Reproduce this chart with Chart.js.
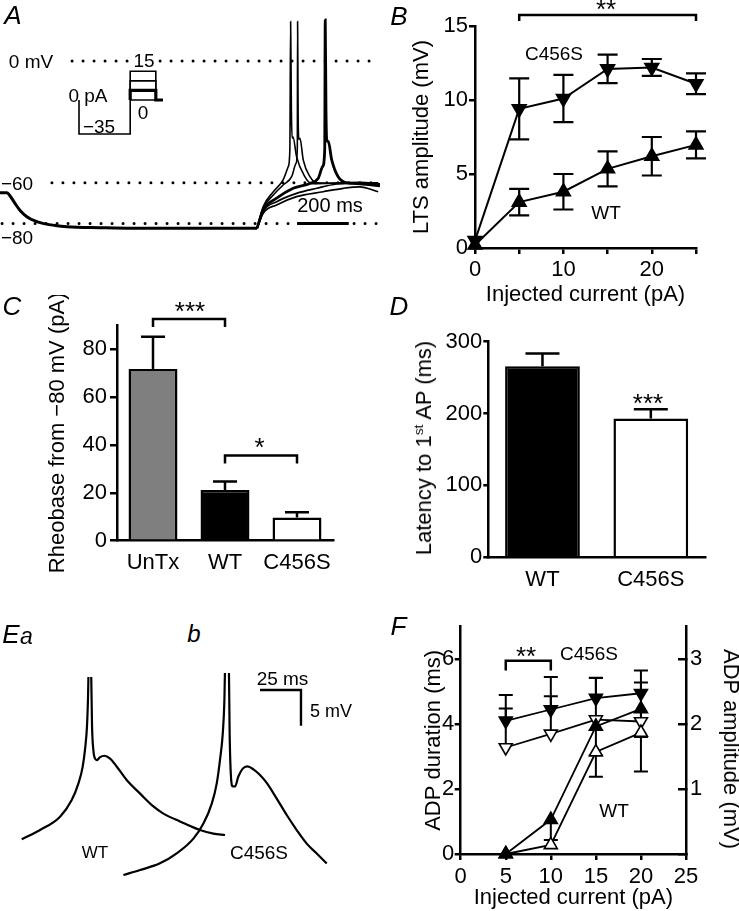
<!DOCTYPE html>
<html><head><meta charset="utf-8">
<script src="https://cdn.jsdelivr.net/npm/chart.js@4.4.1/dist/chart.umd.min.js"></script>
<style>
html,body{margin:0;padding:0;background:#fff;overflow:hidden;}
#fig{position:relative;width:739px;height:911px;overflow:hidden;background:#fff;font-family:'Liberation Sans',Arial,Helvetica,sans-serif;color:#000;}
#fig canvas{position:absolute;}
.t{position:absolute;white-space:nowrap;line-height:1;transform:translate(-50%,-50%);}
</style></head><body><div id="fig"></div>
<script>
// ================= DATA =================
// Panel A: voltage traces (time in ms, membrane potential in mV)
const aBaseTime = [0, 27, 39, 58, 77, 104, 135, 166, 213, 259, 387, 515, 995];
const aBaseMv   = [-64.9, -64.9, -66.5, -70.1, -73.5, -76.7, -78.8, -80, -81, -81.6, -82.1, -82.4, -82.4];
const aSweep1Time = [995, 1019, 1058, 1096, 1116, 1122, 1125, 1128, 1131, 1134, 1148, 1180, 1206, 1277, 1393, 1471];
const aSweep1Mv   = [-82.4, -71.7, -64.4, -58.6, -52, -43.8, 19.4, -25, -38, -37.3, -47.1, -57, -60.4, -60.2, -59.8, -60.5];
const aSweep2Time = [995, 1019, 1058, 1096, 1129, 1146, 1151, 1152, 1154, 1157, 1161, 1174, 1200, 1226, 1316, 1413, 1471];
const aSweep2Mv   = [-82.4, -72.5, -66, -61.1, -57, -50.4, -42.2, 19.4, -25, -38.5, -38.1, -48.8, -57, -60, -60.3, -60, -60.8];
const aSweep3Time = [995, 1019, 1071, 1135, 1200, 1232, 1249, 1257, 1259, 1262, 1265, 1271, 1284, 1309, 1342, 1393, 1471];
const aSweep3Mv   = [-82.4, -73.4, -67.6, -62.7, -60.3, -57.8, -52, -43.8, 20.2, -25, -39, -39.7, -48.7, -57, -60, -60.5, -61.5];
const aSweep4Time = [995, 1019, 1071, 1148, 1226, 1303, 1393, 1464];
const aSweep4Mv   = [-82.4, -74, -69.3, -65.2, -62.7, -60.6, -60, -60];
const aSweep5Time = [995, 1019, 1071, 1148, 1251, 1329, 1393, 1464];
const aSweep5Mv   = [-82.4, -75, -70.9, -66.8, -64.4, -62.7, -62, -64.4];
const aRefLevelsMv = [0, -60, -80];
const aRefStartMs  = [279, 201, 8];
const aScaleBarMs = [1150, 1350];
// Panel A inset: current protocol (pA)
const aHoldPa = 0;
const aHyperPa = -35;
const aStepPa = [0, 5, 10, 15];
const aProtocolMs = [0, 1000, 1500, 1640];

// Panel B: LTS amplitude (mV) vs injected current (pA)
const bCurrent = [0, 5, 10, 15, 20, 25];
const bLtsC456S = [0.5, 9.4, 10.1, 12.1, 12.2, 11.1];
const bLtsC456SSem = [0, 2.06, 1.6, 0.96, 0.57, 0.7];
const bLtsWT = [0.2, 3.1, 3.8, 5.35, 6.2, 6.97];
const bLtsWTSem = [0, 0.9, 1.2, 1.18, 1.3, 0.91];

// Panel C: rheobase from -80 mV (pA)
const cGroups = ['UnTx', 'WT', 'C456S'];
const cRheobase = [71.6, 21.2, 9.7];
const cRheobaseSem = [13.5, 3.5, 2.2];

// Panel D: latency to 1st AP (ms)
const dGroups = ['WT', 'C456S'];
const dLatency = [266, 193];
const dLatencySem = [17.5, 13];

// Panel E: single spikes with ADP (time ms, relative mV)
const eWtTime = [0, 11.2, 23.4, 30.5, 34.6, 37.2, 38.8, 39.8, 40.4, 41.3, 42.3, 42.9, 43.7, 44.7, 45.9, 47.8, 50.4, 53.9, 57.9, 64.0, 72.2, 80.3, 86.4, 96.5, 108.7, 116.9, 124.0];
const eWtMv   = [5.0, 6.3, 8.17, 10.5, 12.84, 15.17, 17.97, 20.78, 24.5, 33.8, 29.2, 20.8, 17.5, 16.3, 16.1, 16.5, 16.7, 16.3, 15.2, 13.3, 11.4, 9.6, 8.6, 7.5, 6.3, 5.8, 5.6];
const eMutTime = [62.0, 72.2, 84.3, 94.5, 104.7, 110.8, 115.9, 118.9, 120.9, 122.6, 123.6, 124.2, 125.2, 126.2, 126.8, 127.6, 128.7, 130.1, 132.1, 134.8, 137.6, 141.3, 145.3, 149.4, 155.5, 161.6, 167.7, 173.8, 179.9, 186.0];
const eMutMv   = [0, 0.7, 1.63, 3.03, 5.1, 7.2, 10.0, 12.8, 16.1, 19.8, 24.5, 31.5, 33.8, 31.5, 19.8, 13.8, 12.4, 12.4, 13.8, 14.9, 15.2, 14.8, 14.0, 12.9, 10.7, 8.4, 6.3, 4.4, 3.0, 1.6];
const eScaleOrigin = [145.3, 25.9];
const eScaleSize = [25, 5];

// Panel F: ADP duration (ms, left axis) and amplitude (mV, right axis)
const fCurrent = [5, 10, 15, 20];
const fDurC456S = [4.1, 4.45, 4.8, 4.95];
const fDurC456SSem = [0.8, 1.0, 0.63, 0.7];
const fDurWT = [0, 1.06, 3.93, 4.47];
const fDurWTSem = [0, 0.63, 0.9, 0.87];
const fAmpC456S = [1.64, 1.85, 2.07, 2.04];
const fAmpC456SSem = [0.6, 0.58, 0.64, 0.6];
const fAmpWT = [0, 0.14, 1.57, 1.87];
const fAmpWTSem = [0, 0, 0.38, 0.6];

// ================= SETUP =================
const FONT = "'Liberation Sans', Arial, Helvetica, sans-serif";
Chart.defaults.font.family = FONT;
Chart.defaults.color = '#000';
Chart.defaults.animation = false;
Chart.defaults.responsive = false;
Chart.defaults.devicePixelRatio = 1;
Chart.defaults.events = [];
Chart.defaults.plugins.legend.display = false;
Chart.defaults.plugins.tooltip.enabled = false;

const fig = document.getElementById('fig');
function canvasAt(left, top, w, h) {
  const c = document.createElement('canvas');
  c.width = w; c.height = h;
  c.style.left = left + 'px'; c.style.top = top + 'px';
  c.style.width = w + 'px'; c.style.height = h + 'px';
  fig.appendChild(c);
  return c;
}
function label(html, cx, cy, size, opt = {}) {
  const d = document.createElement('div');
  d.className = 't';
  d.innerHTML = html;
  const dy = opt.star ? 0.22 * size : 0;
  d.style.left = cx + 'px';
  d.style.top = (cy + dy) + 'px';
  d.style.fontSize = size + 'px';
  if (opt.italic) d.style.fontStyle = 'italic';
  if (opt.bg) { d.style.background = '#fff'; d.style.padding = '0 2px'; }
  if (opt.rot) d.style.transform = 'translate(-50%,-50%) rotate(' + opt.rot + 'deg)';
  fig.appendChild(d);
}
const pts = (xs, ys) => xs.map((x, i) => ({x, y: ys[i]}));

// error bars drawn through the scales, below the markers
const errorBars = {
  id: 'errorBars',
  beforeDatasetsDraw(chart) {
    const ctx = chart.ctx;
    chart.data.datasets.forEach((ds, i) => {
      if (!ds.errors) return;
      const meta = chart.getDatasetMeta(i);
      const ys = chart.scales[meta.yAxisID];
      ctx.save();
      ctx.strokeStyle = '#000';
      ctx.lineWidth = ds.errWidth || 2;
      meta.data.forEach((el, j) => {
        const raw = ds.data[j];
        const v = (typeof raw === 'object') ? raw.y : raw;
        const e = ds.errors[j];
        if (!e) return;
        const x = el.x, y0 = ys.getPixelForValue(v);
        const dirs = ds.errDir === 'both' ? [1, -1] : (ds.errDir === 'down' ? [-1] : [1]);
        dirs.forEach(d => {
          const y1 = ys.getPixelForValue(v + d * e);
          ctx.beginPath();
          ctx.moveTo(x, y0); ctx.lineTo(x, y1);
          ctx.moveTo(x - ds.errCap, y1); ctx.lineTo(x + ds.errCap, y1);
          ctx.stroke();
        });
      });
      ctx.restore();
    });
  }
};
// significance brackets in data coordinates
const brackets = {
  id: 'brackets',
  afterDatasetsDraw(chart, args, opts) {
    if (!opts || !opts.items) return;
    const ctx = chart.ctx, xs = chart.scales.x, ys = chart.scales[opts.axis || 'y'];
    ctx.save();
    ctx.strokeStyle = '#000'; ctx.lineWidth = opts.width || 2.5; ctx.lineJoin = 'miter';
    for (const b of opts.items) {
      const x1 = xs.getPixelForValue(b.x1), x2 = xs.getPixelForValue(b.x2);
      const y = ys.getPixelForValue(b.y), yd = ys.getPixelForValue(b.y - b.drop);
      ctx.beginPath();
      ctx.moveTo(x1, yd); ctx.lineTo(x1, y); ctx.lineTo(x2, y); ctx.lineTo(x2, yd);
      ctx.stroke();
    }
    ctx.restore();
  }
};

function axisBase(o) {
  const ax = {
    type: o.type || 'linear',
    afterFit: s => { if (o.width != null) s.width = o.width; if (o.height != null) s.height = o.height; },
    border: {display: true, color: '#000', width: 2.5},
    grid: {display: o.noTicks ? false : true, drawOnChartArea: false, drawTicks: !o.noTicks,
           tickLength: o.tickLength != null ? o.tickLength : 6, color: '#000', lineWidth: 2.5},
    ticks: {includeBounds: false, autoSkip: false, maxRotation: 0, minRotation: 0,
            font: {size: 22}, color: '#000', padding: o.pad != null ? o.pad : 3},
    title: o.title ? {display: true, text: o.title, font: {size: 22}, color: '#000',
                      padding: o.titlePad} : {display: false}
  };
  if (o.position) ax.position = o.position;
  if (o.min != null) ax.min = o.min;
  if (o.max != null) ax.max = o.max;
  if (o.step != null) ax.ticks.stepSize = o.step;
  if (o.cb) ax.ticks.callback = o.cb;
  if (o.type === 'category') { ax.offset = true; }
  return ax;
}
const numCb = v => String(v);
const hidden = (min, max) => ({type: 'linear', display: false, min, max});

// ================= PANEL A =================
const traceDs = (xs, ys, w) => ({data: pts(xs, ys), borderColor: '#000', borderWidth: w, pointRadius: 0,
  cubicInterpolationMode: 'monotone', fill: false});
const aDatasets = [];
aRefLevelsMv.forEach((lv, i) => aDatasets.push({data: [{x: aRefStartMs[i], y: lv}, {x: 1471, y: lv}],
  borderColor: '#000', borderWidth: 3, borderDash: [0, 11], borderCapStyle: 'round', pointRadius: 0}));
aDatasets.push(traceDs(aBaseTime, aBaseMv, 3));
aDatasets.push(traceDs(aSweep5Time, aSweep5Mv, 1.7));
aDatasets.push(traceDs(aSweep4Time, aSweep4Mv, 1.7));
aDatasets.push(traceDs(aSweep1Time, aSweep1Mv, 1.6));
aDatasets.push(traceDs(aSweep2Time, aSweep2Mv, 1.6));
aDatasets.push(traceDs(aSweep3Time, aSweep3Mv, 2.8));
aDatasets.push({data: [{x: aScaleBarMs[0], y: aRefLevelsMv[2]}, {x: aScaleBarMs[1], y: aRefLevelsMv[2]}],
  borderColor: '#000', borderWidth: 3, pointRadius: 0});
new Chart(canvasAt(0, 0, 380, 250), {
  type: 'line',
  data: {datasets: aDatasets},
  options: {layout: {padding: 0}, scales: {x: hidden(0, 1471), y: hidden(-93.1, 30.05)}}
});

// inset protocol
const insetDs = [{data: [{x: aProtocolMs[0], y: aHoldPa}, {x: aProtocolMs[0], y: aHyperPa},
  {x: aProtocolMs[1], y: aHyperPa}, {x: aProtocolMs[1], y: aHoldPa}], yAxisID: 'yNeg',
  borderColor: '#000', borderWidth: 1.6, pointRadius: 0, borderJoinStyle: 'miter'}];
aStepPa.forEach(s => insetDs.push({data: [{x: aProtocolMs[1], y: 0}, {x: aProtocolMs[1], y: s},
  {x: aProtocolMs[2], y: s}, {x: aProtocolMs[2], y: 0}, {x: aProtocolMs[3], y: 0}], yAxisID: 'yPos',
  borderColor: '#000', borderWidth: s === 5 ? 3.2 : 1.6, pointRadius: 0, borderJoinStyle: 'miter'}));
new Chart(canvasAt(70, 60, 100, 85), {
  type: 'line',
  data: {datasets: insetDs},
  options: {layout: {padding: 0}, scales: {x: hidden(-175.8, 1777.3), yPos: hidden(-23.52, 20.91), yNeg: hidden(-46.34, 41.19)}}
});

// ================= PANEL B =================
const triDs = (xs, ys, errs, rot, fill, dir, r, cap, axis) => ({
  data: pts(xs, ys), yAxisID: axis || 'y', errors: errs, errDir: dir, errCap: cap, errWidth: 2.2,
  borderColor: '#000', borderWidth: 2, pointStyle: 'triangle', pointRotation: rot, pointRadius: r,
  pointBackgroundColor: fill, pointBorderColor: '#000', pointBorderWidth: 1.6, clip: false, tension: 0
});
new Chart(canvasAt(390, 0, 349, 320), {
  type: 'line',
  data: {datasets: [
    triDs(bCurrent, bLtsC456S, bLtsC456SSem, 180, '#000', 'both', 8, 10),
    triDs(bCurrent, bLtsWT, bLtsWTSem, 0, '#000', 'both', 8, 10)
  ]},
  plugins: [errorBars, brackets],
  options: {
    layout: {padding: {left: 0, top: 26, right: 43, bottom: 0}},
    plugins: {brackets: {items: [{x1: 5, x2: 25, y: 15.75, drop: 0.42}]}},
    scales: {
      x: axisBase({min: 0, max: 25, step: 5, height: 72, pad: 3, cb: v => (v % 10 === 0 ? String(v) : ''),
                   title: 'Injected current (pA)', titlePad: {top: 0, bottom: 12}}),
      y: axisBase({min: 0, max: 15, step: 5, width: 85, pad: 1, cb: numCb,
                   title: 'LTS amplitude (mV)', titlePad: {top: 19, bottom: 0}})
    }
  }
});

// ================= PANEL C =================
new Chart(canvasAt(0, 295, 345, 300), {
  type: 'bar',
  data: {labels: cGroups, datasets: [{data: cRheobase, backgroundColor: ['#7f7f7f', '#000', '#fff'],
    borderColor: '#000', borderWidth: 2.5, barPercentage: 0.68, categoryPercentage: 1,
    errors: cRheobaseSem, errDir: 'up', errCap: 12, errWidth: 2.5}]},
  plugins: [errorBars, brackets],
  options: {
    layout: {padding: {left: 0, top: 30, right: 12, bottom: 0}},
    plugins: {brackets: {items: [{x1: 0, x2: 1, y: 92.5, drop: 3.3}, {x1: 1, x2: 2, y: 35.5, drop: 3.3}]}},
    scales: {
      x: axisBase({type: 'category', noTicks: true, height: 54.3, pad: 9}),
      y: axisBase({min: 0, max: 90, step: 20, width: 117, pad: 3, tickLength: 7, cb: numCb,
                   title: 'Rheobase from \u221280 mV (pA)', titlePad: {top: 45, bottom: 0}})
    }
  }
});

// ================= PANEL D =================
new Chart(canvasAt(370, 295, 369, 300), {
  type: 'bar',
  data: {labels: dGroups, datasets: [{data: dLatency, backgroundColor: ['#000', '#fff'],
    borderColor: '#000', borderWidth: 2.5, barPercentage: 0.69, categoryPercentage: 1,
    errors: dLatencySem, errDir: 'up', errCap: 17, errWidth: 2.5}]},
  plugins: [errorBars],
  options: {
    layout: {padding: {left: 0, top: 46.7, right: 34, bottom: 0}},
    scales: {
      x: axisBase({type: 'category', noTicks: true, height: 37.7, pad: 9.5}),
      y: axisBase({min: 0, max: 300, step: 100, width: 118.3, pad: 1, tickLength: 5, cb: numCb})
    }
  }
});

// ================= PANEL E =================
const eWt = traceDs(eWtTime, eWtMv, 2.2);
eWt.clip = {left: 0, top: -4, right: 0, bottom: 0};
const eMut = traceDs(eMutTime, eMutMv, 2.2);
new Chart(canvasAt(0, 673, 370, 238), {
  type: 'line',
  data: {datasets: [eWt, eMut,
    {data: [{x: eScaleOrigin[0], y: eScaleOrigin[1]}, {x: eScaleOrigin[0] + eScaleSize[0], y: eScaleOrigin[1]},
            {x: eScaleOrigin[0] + eScaleSize[0], y: eScaleOrigin[1] - eScaleSize[1]}],
     borderColor: '#000', borderWidth: 2.4, pointRadius: 0, borderJoinStyle: 'miter'}]},
  options: {layout: {padding: 0}, scales: {x: hidden(-13.23, 212.38), y: hidden(-5.04, 28.29)}}
});

// ================= PANEL F =================
const fDs = [
  triDs(fCurrent, fDurWT, fDurWTSem, 0, '#000', 'down', 7.5, 7, 'y'),
  triDs(fCurrent, fAmpWT, fAmpWTSem, 0, '#fff', 'down', 7.5, 7, 'y2'),
  triDs(fCurrent, fDurC456S, fDurC456SSem, 180, '#000', 'up', 7.5, 7, 'y'),
  triDs(fCurrent, fAmpC456S, fAmpC456SSem, 180, '#fff', 'up', 7.5, 7, 'y2')
];
fDs.forEach(d => { d.errWidth = 2; d.borderWidth = 1.8; });
new Chart(canvasAt(370, 600, 369, 311), {
  type: 'line',
  data: {datasets: fDs},
  plugins: [errorBars, brackets],
  options: {
    layout: {padding: {left: 0, top: 26.7, right: 0, bottom: 0}},
    plugins: {brackets: {items: [{x1: 5, x2: 10, y: 5.95, drop: 0.3}]}},
    scales: {
      x: axisBase({min: 0, max: 25, step: 5, height: 57, pad: 3.5, cb: numCb,
                   title: 'Injected current (pA)', titlePad: {top: 0, bottom: 0}}),
      y: axisBase({position: 'left', min: 0, max: 7, step: 2, width: 90.7, pad: 0.5, cb: numCb,
                   title: 'ADP duration (ms)', titlePad: {top: 51, bottom: 0}}),
      y2: axisBase({position: 'right', min: 0, max: 3.5, step: 1, width: 53, pad: 12, tickLength: -8,
                    cb: v => (v === 0 ? '' : String(v))})
    }
  }
});

// ================= TEXT =================
// panel letters
label('A', 13, 15, 26, {italic: true});
label('B', 399, 16, 26, {italic: true});
label('C', 12, 306, 26, {italic: true});
label('D', 399, 306, 26, {italic: true});
label('E', 11, 634, 26, {italic: true});
label('a', 26.5, 635.5, 23, {italic: true});
label('b', 194, 634, 24, {italic: true});
label('F', 398.5, 625.5, 26, {italic: true});
// A annotations
label('0 mV', 31, 61, 19);
label('\u221260', 17, 183, 19);
label('\u221280', 17, 236.5, 19);
label('200 ms', 330, 205, 20);
label('15', 144, 60, 19, {bg: true});
label('0 pA', 88, 95, 19);
label('0', 143, 112, 19);
label('\u221235', 99, 126, 19);
// B annotations
label('**', 606, 3, 26, {star: true});
label('C456S', 554, 53, 19);
label('WT', 606, 212, 19);
// C annotations
label('***', 190, 305.5, 26, {star: true});
label('*', 259.5, 441, 26, {star: true});
// D annotations
label('***', 648, 397.5, 26, {star: true});
label('Latency to 1<sup style="font-size:0.62em;vertical-align:0.6em;line-height:0">st</sup> AP (ms)', 424, 448, 22, {rot: -90});
// E annotations
label('WT', 95, 851.7, 17);
label('C456S', 259, 851.7, 19);
label('25 ms', 282.5, 678, 19);
label('5 mV', 331, 710.5, 18);
// F annotations
label('**', 526, 650, 26, {star: true});
label('C456S', 589, 653, 19);
label('WT', 614, 810, 19);
label('ADP amplitude (mV)', 731, 749, 22, {rot: 90});
</script></body></html>
